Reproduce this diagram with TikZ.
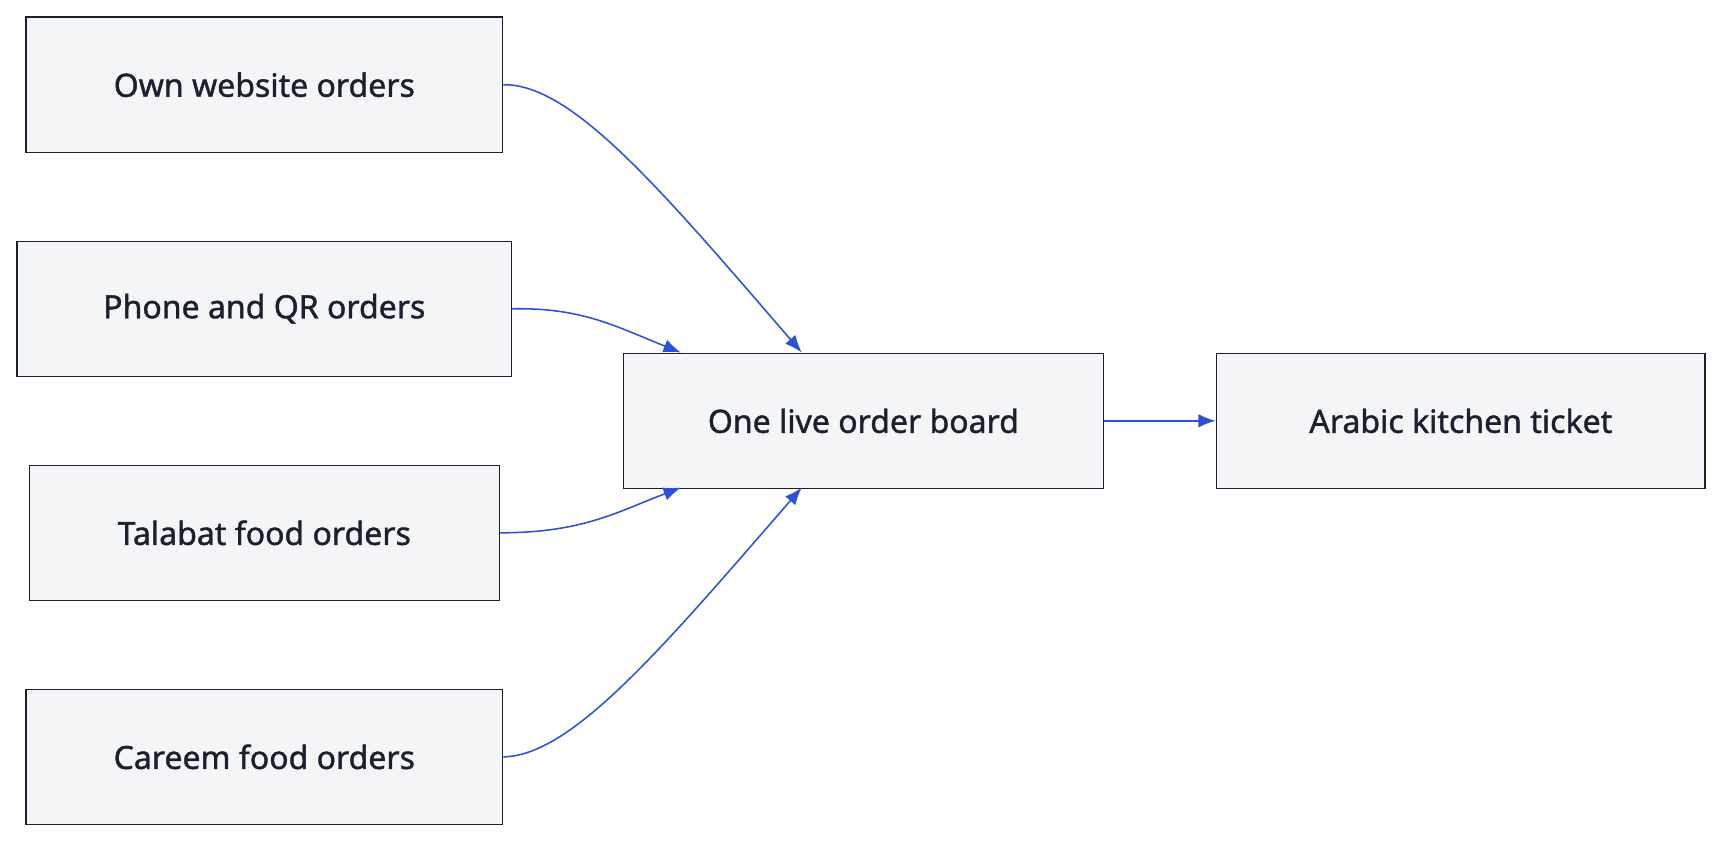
\documentclass[tikz,border=0pt]{standalone}
\usepackage{fontspec}
\setmainfont{Noto Sans}
\newfontfamily\semibold{Noto Sans}[FakeBold=1.2]
\usetikzlibrary{arrows.meta}
\definecolor{boxfill}{HTML}{F4F5F7}
\definecolor{boxline}{HTML}{1B1F2E}
\definecolor{flow}{HTML}{2B50D9}
\tikzset{
  source/.style = {draw=boxline, fill=boxfill, line width=0.8pt, anchor=north west,
    inner sep=0pt, font=\semibold\fontsize{16.6}{20}\selectfont\color{boxline}},
  feed/.style = {draw=flow, line width=0.8pt, -{Latex[length=9pt,width=7pt]}}
}
\begin{document}
\begin{tikzpicture}[x=0.02cm, y=-0.02cm]
\useasboundingbox (0,0) rectangle (1568,766);

% order channels
\node[source, minimum width=8.68cm, minimum height=2.46cm] (web) at (23,15) {Own website orders};
\node[source, minimum width=9cm, minimum height=2.46cm] (phone) at (15,219) {Phone and QR orders};
\node[source, minimum width=8.56cm, minimum height=2.46cm] (talabat) at (26,423) {Talabat food orders};
\node[source, minimum width=8.68cm, minimum height=2.46cm] (careem) at (23,627) {Careem food orders};

% board and ticket
\node[source, minimum width=8.74cm, minimum height=2.46cm] (board) at (567,321) {One live order board};
\node[source, minimum width=8.9cm, minimum height=2.46cm] (ticket) at (1107,321) {Arabic kitchen ticket};

\coordinate (inA) at (730,321);
\coordinate (inB) at (620,321);
\coordinate (inC) at (620,444);
\coordinate (inD) at (730,444);

\draw[feed] (web.east) .. controls (520,76) and (600,170) .. (inA);
\draw[feed] (phone.east) .. controls (530,280) and (560,297) .. (inB);
\draw[feed] (talabat.east) .. controls (530,485) and (560,467) .. (inC);
\draw[feed] (careem.east) .. controls (520,688) and (600,594) .. (inD);
\draw[feed] (board.east) -- (ticket.west);
\end{tikzpicture}
\end{document}
